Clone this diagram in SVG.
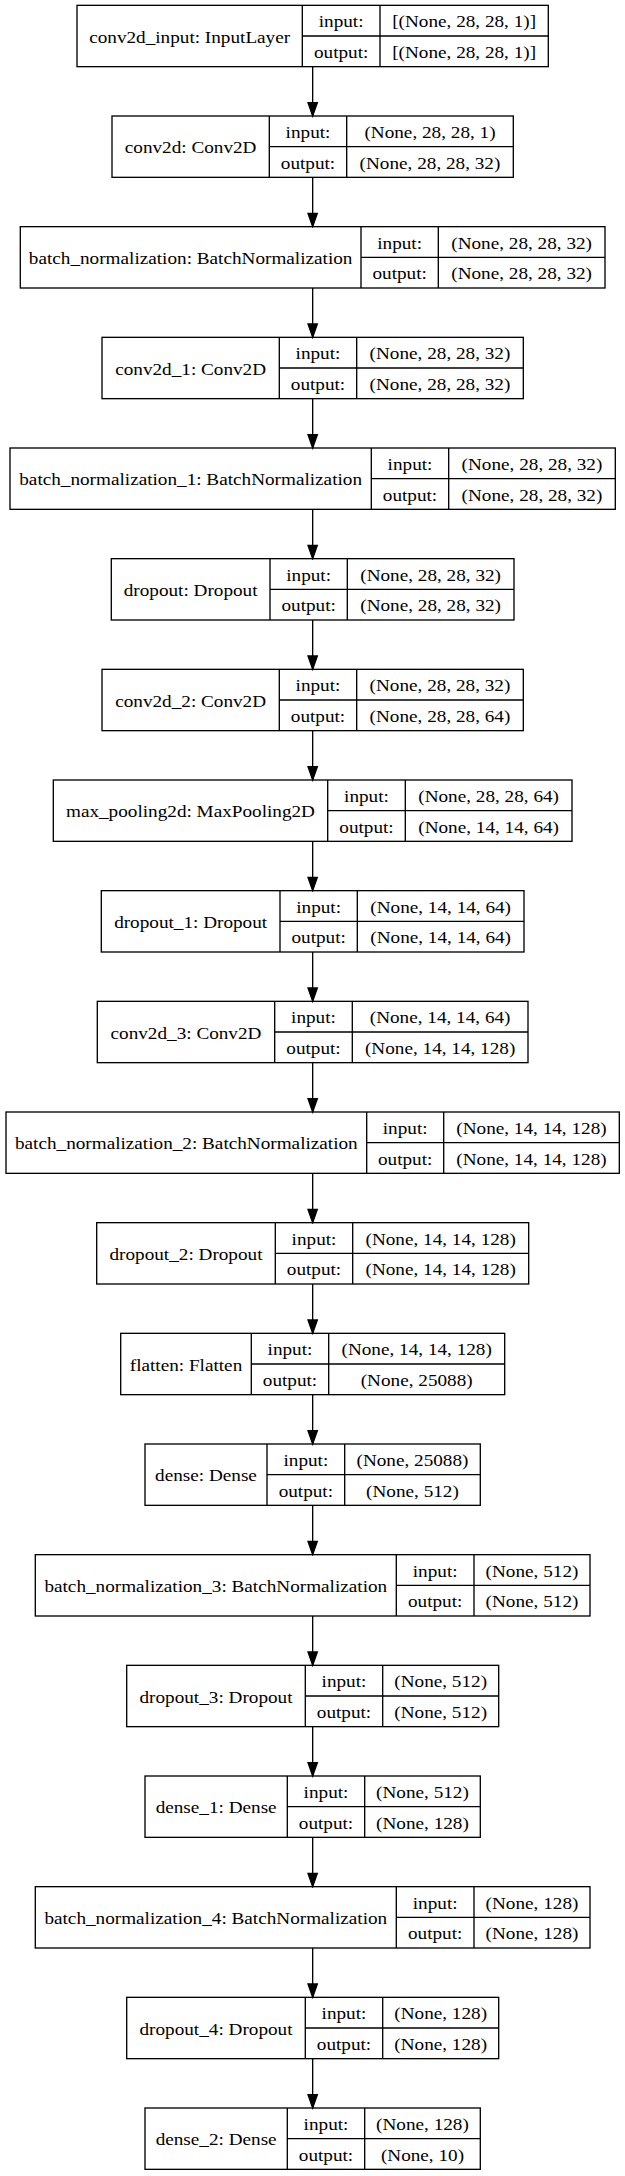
<svg xmlns="http://www.w3.org/2000/svg" width="625" height="2176" viewBox="0 0 625 2176">
<style>
text{font-family:"Liberation Serif","Times New Roman",serif;font-size:17px;fill:#000;text-anchor:middle}
.b{fill:none;stroke:#000;stroke-width:1.33}
.e{stroke:#000;stroke-width:1.33;fill:none}
</style>
<defs>
<marker id="ah" markerUnits="userSpaceOnUse" markerWidth="16" markerHeight="12" refX="13.33" refY="5.33" orient="auto" viewBox="-1 0 16 10.67">
<path d="M0,0.67 L13.33,5.33 L0,10 Z" fill="#000" stroke="#000" stroke-width="1.33"/>
</marker>
</defs>
<rect width="625" height="2176" fill="#fff"/>
<g id="edges">
<line class="e" x1="312.67" y1="66.67" x2="312.67" y2="116" marker-end="url(#ah)"/>
<line class="e" x1="312.67" y1="177.33" x2="312.67" y2="226.67" marker-end="url(#ah)"/>
<line class="e" x1="312.67" y1="288" x2="312.67" y2="337.33" marker-end="url(#ah)"/>
<line class="e" x1="312.67" y1="398.67" x2="312.67" y2="448" marker-end="url(#ah)"/>
<line class="e" x1="312.67" y1="509.33" x2="312.67" y2="558.67" marker-end="url(#ah)"/>
<line class="e" x1="312.67" y1="620" x2="312.67" y2="669.33" marker-end="url(#ah)"/>
<line class="e" x1="312.67" y1="730.67" x2="312.67" y2="780" marker-end="url(#ah)"/>
<line class="e" x1="312.67" y1="841.33" x2="312.67" y2="890.67" marker-end="url(#ah)"/>
<line class="e" x1="312.67" y1="952" x2="312.67" y2="1001.33" marker-end="url(#ah)"/>
<line class="e" x1="312.67" y1="1062.67" x2="312.67" y2="1112" marker-end="url(#ah)"/>
<line class="e" x1="312.67" y1="1173.33" x2="312.67" y2="1222.67" marker-end="url(#ah)"/>
<line class="e" x1="312.67" y1="1284" x2="312.67" y2="1333.33" marker-end="url(#ah)"/>
<line class="e" x1="312.67" y1="1394.67" x2="312.67" y2="1444" marker-end="url(#ah)"/>
<line class="e" x1="312.67" y1="1505.33" x2="312.67" y2="1554.67" marker-end="url(#ah)"/>
<line class="e" x1="312.67" y1="1616" x2="312.67" y2="1665.33" marker-end="url(#ah)"/>
<line class="e" x1="312.67" y1="1726.67" x2="312.67" y2="1776" marker-end="url(#ah)"/>
<line class="e" x1="312.67" y1="1837.33" x2="312.67" y2="1886.67" marker-end="url(#ah)"/>
<line class="e" x1="312.67" y1="1948" x2="312.67" y2="1997.33" marker-end="url(#ah)"/>
<line class="e" x1="312.67" y1="2058.67" x2="312.67" y2="2108" marker-end="url(#ah)"/>
</g>
<g id="conv2d_input" transform="translate(0,5.33)">
<rect class="b" x="77" y="0" width="471.3" height="61.33"/>
<path class="b" d="M302.3,0V61.33M380,0V61.33M302.3,30.67H548.3"/>
<g transform="scale(1.13,1)">
<text x="167.83" y="37.4">conv2d_input: InputLayer</text>
<text x="301.9" y="21.9">input:</text><text x="301.9" y="52.6">output:</text>
<text x="410.75" y="21.9">[(None, 28, 28, 1)]</text><text x="410.75" y="52.6">[(None, 28, 28, 1)]</text>
</g>
</g>
<g id="conv2d" transform="translate(0,116)">
<rect class="b" x="112" y="0" width="401.3" height="61.33"/>
<path class="b" d="M269.3,0V61.33M346.7,0V61.33M269.3,30.67H513.3"/>
<g transform="scale(1.13,1)">
<text x="168.72" y="37.4">conv2d: Conv2D</text>
<text x="272.57" y="21.9">input:</text><text x="272.57" y="52.6">output:</text>
<text x="380.53" y="21.9">(None, 28, 28, 1)</text><text x="380.53" y="52.6">(None, 28, 28, 32)</text>
</g>
</g>
<g id="batch_normalization" transform="translate(0,226.67)">
<rect class="b" x="20.3" y="0" width="584.7" height="61.33"/>
<path class="b" d="M361,0V61.33M438.3,0V61.33M361,30.67H605"/>
<g transform="scale(1.13,1)">
<text x="168.72" y="37.4">batch_normalization: BatchNormalization</text>
<text x="353.67" y="21.9">input:</text><text x="353.67" y="52.6">output:</text>
<text x="461.64" y="21.9">(None, 28, 28, 32)</text><text x="461.64" y="52.6">(None, 28, 28, 32)</text>
</g>
</g>
<g id="conv2d_1" transform="translate(0,337.33)">
<rect class="b" x="102" y="0" width="421.3" height="61.33"/>
<path class="b" d="M279.3,0V61.33M356.7,0V61.33M279.3,30.67H523.3"/>
<g transform="scale(1.13,1)">
<text x="168.72" y="37.4">conv2d_1: Conv2D</text>
<text x="281.42" y="21.9">input:</text><text x="281.42" y="52.6">output:</text>
<text x="389.38" y="21.9">(None, 28, 28, 32)</text><text x="389.38" y="52.6">(None, 28, 28, 32)</text>
</g>
</g>
<g id="batch_normalization_1" transform="translate(0,448)">
<rect class="b" x="10" y="0" width="605.3" height="61.33"/>
<path class="b" d="M371.3,0V61.33M448.7,0V61.33M371.3,30.67H615.3"/>
<g transform="scale(1.13,1)">
<text x="168.72" y="37.4">batch_normalization_1: BatchNormalization</text>
<text x="362.83" y="21.9">input:</text><text x="362.83" y="52.6">output:</text>
<text x="470.8" y="21.9">(None, 28, 28, 32)</text><text x="470.8" y="52.6">(None, 28, 28, 32)</text>
</g>
</g>
<g id="dropout" transform="translate(0,558.67)">
<rect class="b" x="111.3" y="0" width="402.7" height="61.33"/>
<path class="b" d="M270,0V61.33M347.3,0V61.33M270,30.67H514"/>
<g transform="scale(1.13,1)">
<text x="168.72" y="37.4">dropout: Dropout</text>
<text x="273.14" y="21.9">input:</text><text x="273.14" y="52.6">output:</text>
<text x="381.11" y="21.9">(None, 28, 28, 32)</text><text x="381.11" y="52.6">(None, 28, 28, 32)</text>
</g>
</g>
<g id="conv2d_2" transform="translate(0,669.33)">
<rect class="b" x="102" y="0" width="421.3" height="61.33"/>
<path class="b" d="M279.3,0V61.33M356.7,0V61.33M279.3,30.67H523.3"/>
<g transform="scale(1.13,1)">
<text x="168.72" y="37.4">conv2d_2: Conv2D</text>
<text x="281.42" y="21.9">input:</text><text x="281.42" y="52.6">output:</text>
<text x="389.38" y="21.9">(None, 28, 28, 32)</text><text x="389.38" y="52.6">(None, 28, 28, 64)</text>
</g>
</g>
<g id="max_pooling2d" transform="translate(0,780)">
<rect class="b" x="53.3" y="0" width="518.7" height="61.33"/>
<path class="b" d="M327.7,0V61.33M405.3,0V61.33M327.7,30.67H572"/>
<g transform="scale(1.13,1)">
<text x="168.58" y="37.4">max_pooling2d: MaxPooling2D</text>
<text x="324.34" y="21.9">input:</text><text x="324.34" y="52.6">output:</text>
<text x="432.43" y="21.9">(None, 28, 28, 64)</text><text x="432.43" y="52.6">(None, 14, 14, 64)</text>
</g>
</g>
<g id="dropout_1" transform="translate(0,890.67)">
<rect class="b" x="101.3" y="0" width="422.7" height="61.33"/>
<path class="b" d="M280,0V61.33M357.3,0V61.33M280,30.67H524"/>
<g transform="scale(1.13,1)">
<text x="168.72" y="37.4">dropout_1: Dropout</text>
<text x="281.99" y="21.9">input:</text><text x="281.99" y="52.6">output:</text>
<text x="389.96" y="21.9">(None, 14, 14, 64)</text><text x="389.96" y="52.6">(None, 14, 14, 64)</text>
</g>
</g>
<g id="conv2d_3" transform="translate(0,1001.33)">
<rect class="b" x="97.3" y="0" width="430.7" height="61.33"/>
<path class="b" d="M274.7,0V61.33M352.3,0V61.33M274.7,30.67H528"/>
<g transform="scale(1.13,1)">
<text x="164.6" y="37.4">conv2d_3: Conv2D</text>
<text x="277.43" y="21.9">input:</text><text x="277.43" y="52.6">output:</text>
<text x="389.51" y="21.9">(None, 14, 14, 64)</text><text x="389.51" y="52.6">(None, 14, 14, 128)</text>
</g>
</g>
<g id="batch_normalization_2" transform="translate(0,1112)">
<rect class="b" x="6" y="0" width="613.3" height="61.33"/>
<path class="b" d="M366.7,0V61.33M443.7,0V61.33M366.7,30.67H619.3"/>
<g transform="scale(1.13,1)">
<text x="164.91" y="37.4">batch_normalization_2: BatchNormalization</text>
<text x="358.58" y="21.9">input:</text><text x="358.58" y="52.6">output:</text>
<text x="470.35" y="21.9">(None, 14, 14, 128)</text><text x="470.35" y="52.6">(None, 14, 14, 128)</text>
</g>
</g>
<g id="dropout_2" transform="translate(0,1222.67)">
<rect class="b" x="96.7" y="0" width="432" height="61.33"/>
<path class="b" d="M275.3,0V61.33M352.7,0V61.33M275.3,30.67H528.7"/>
<g transform="scale(1.13,1)">
<text x="164.6" y="37.4">dropout_2: Dropout</text>
<text x="277.88" y="21.9">input:</text><text x="277.88" y="52.6">output:</text>
<text x="390" y="21.9">(None, 14, 14, 128)</text><text x="390" y="52.6">(None, 14, 14, 128)</text>
</g>
</g>
<g id="flatten" transform="translate(0,1333.33)">
<rect class="b" x="120.7" y="0" width="384" height="61.33"/>
<path class="b" d="M251.3,0V61.33M328.7,0V61.33M251.3,30.67H504.7"/>
<g transform="scale(1.13,1)">
<text x="164.6" y="37.4">flatten: Flatten</text>
<text x="256.64" y="21.9">input:</text><text x="256.64" y="52.6">output:</text>
<text x="368.76" y="21.9">(None, 14, 14, 128)</text><text x="368.76" y="52.6">(None, 25088)</text>
</g>
</g>
<g id="dense" transform="translate(0,1444)">
<rect class="b" x="145" y="0" width="335.3" height="61.33"/>
<path class="b" d="M267,0V61.33M344.7,0V61.33M267,30.67H480.3"/>
<g transform="scale(1.13,1)">
<text x="182.3" y="37.4">dense: Dense</text>
<text x="270.66" y="21.9">input:</text><text x="270.66" y="52.6">output:</text>
<text x="365.04" y="21.9">(None, 25088)</text><text x="365.04" y="52.6">(None, 512)</text>
</g>
</g>
<g id="batch_normalization_3" transform="translate(0,1554.67)">
<rect class="b" x="35.3" y="0" width="554.7" height="61.33"/>
<path class="b" d="M396.3,0V61.33M474,0V61.33M396.3,30.67H590"/>
<g transform="scale(1.13,1)">
<text x="190.97" y="37.4">batch_normalization_3: BatchNormalization</text>
<text x="385.09" y="21.9">input:</text><text x="385.09" y="52.6">output:</text>
<text x="470.8" y="21.9">(None, 512)</text><text x="470.8" y="52.6">(None, 512)</text>
</g>
</g>
<g id="dropout_3" transform="translate(0,1665.33)">
<rect class="b" x="126.7" y="0" width="372" height="61.33"/>
<path class="b" d="M305.3,0V61.33M382.7,0V61.33M305.3,30.67H498.7"/>
<g transform="scale(1.13,1)">
<text x="191.15" y="37.4">dropout_3: Dropout</text>
<text x="304.42" y="21.9">input:</text><text x="304.42" y="52.6">output:</text>
<text x="390" y="21.9">(None, 512)</text><text x="390" y="52.6">(None, 512)</text>
</g>
</g>
<g id="dense_1" transform="translate(0,1776)">
<rect class="b" x="145" y="0" width="335.3" height="61.33"/>
<path class="b" d="M287.3,0V61.33M364.7,0V61.33M287.3,30.67H480.3"/>
<g transform="scale(1.13,1)">
<text x="191.28" y="37.4">dense_1: Dense</text>
<text x="288.5" y="21.9">input:</text><text x="288.5" y="52.6">output:</text>
<text x="373.89" y="21.9">(None, 512)</text><text x="373.89" y="52.6">(None, 128)</text>
</g>
</g>
<g id="batch_normalization_4" transform="translate(0,1886.67)">
<rect class="b" x="35.3" y="0" width="554.7" height="61.33"/>
<path class="b" d="M396.3,0V61.33M474,0V61.33M396.3,30.67H590"/>
<g transform="scale(1.13,1)">
<text x="190.97" y="37.4">batch_normalization_4: BatchNormalization</text>
<text x="385.09" y="21.9">input:</text><text x="385.09" y="52.6">output:</text>
<text x="470.8" y="21.9">(None, 128)</text><text x="470.8" y="52.6">(None, 128)</text>
</g>
</g>
<g id="dropout_4" transform="translate(0,1997.33)">
<rect class="b" x="126.7" y="0" width="372" height="61.33"/>
<path class="b" d="M305.3,0V61.33M382.7,0V61.33M305.3,30.67H498.7"/>
<g transform="scale(1.13,1)">
<text x="191.15" y="37.4">dropout_4: Dropout</text>
<text x="304.42" y="21.9">input:</text><text x="304.42" y="52.6">output:</text>
<text x="390" y="21.9">(None, 128)</text><text x="390" y="52.6">(None, 128)</text>
</g>
</g>
<g id="dense_2" transform="translate(0,2108)">
<rect class="b" x="145" y="0" width="335.3" height="61.33"/>
<path class="b" d="M287.3,0V61.33M364.7,0V61.33M287.3,30.67H480.3"/>
<g transform="scale(1.13,1)">
<text x="191.28" y="37.4">dense_2: Dense</text>
<text x="288.5" y="21.9">input:</text><text x="288.5" y="52.6">output:</text>
<text x="373.89" y="21.9">(None, 128)</text><text x="373.89" y="52.6">(None, 10)</text>
</g>
</g>
</svg>
